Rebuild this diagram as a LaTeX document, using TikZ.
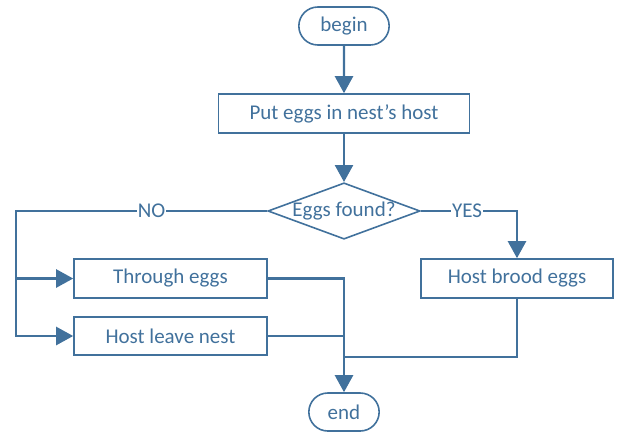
\documentclass[tikz,border=0pt]{standalone}
\usepackage{fontspec}
\setmainfont{Carlito}
\usetikzlibrary{arrows.meta,shapes.geometric,shapes.misc}
\definecolor{flowblue}{HTML}{41719C}

\begin{document}
\begin{tikzpicture}[x=1pt,y=-1pt,
  every node/.style={text=flowblue,font=\fontsize{21}{25}\selectfont},
  term/.style={draw=flowblue,line width=1.6pt,rounded rectangle,minimum width=77pt,minimum height=38pt},
  proc/.style={draw=flowblue,line width=1.6pt,rectangle,minimum height=39pt},
  decis/.style={draw=flowblue,line width=1.6pt,diamond,aspect=2.7,inner sep=0pt,minimum width=151pt,minimum height=56pt},
  flow/.style={draw=flowblue,line width=2.4pt},
  arr/.style={flow,-{Triangle[length=17pt,width=18pt]}},
  lbl/.style={fill=white,inner sep=1pt}]
 \useasboundingbox (0,0) rectangle (619,432);
 \node[term,minimum width=97pt] (begin) at (344,26) {begin};
 \node[proc,minimum width=251pt] (put) at (344,113.5) {Put eggs in nest’s host};
 \node[decis] (found) at (344,211) {Eggs found?};
 \node[proc,minimum width=193pt] (through) at (170.5,278.5) {Through eggs};
 \node[proc,minimum width=193pt,minimum height=38pt] (leave) at (170.5,336) {Host leave nest};
 \node[proc,minimum width=192pt] (brood) at (517,278.5) {Host brood eggs};
 \node[term] (end) at (344,412) {end};
 \coordinate (nocorner) at (16,211);
 \coordinate (join) at (344,357);
 \draw[arr] (begin) -- (put);
 \draw[arr] (put) -- (found);
 \draw[arr] (found.west) -- node[lbl,pos=.46]{NO} (nocorner) |- (through.west);
 \draw[arr] (nocorner) |- (leave.west);
 \draw[arr] (found.east) -| node[lbl,pos=.24]{YES} (brood.north);
 \draw[arr] (through.east) -| (end.north);
 \draw[flow] (leave.east) -- (leave.east -| end.north);
 \draw[flow] (brood.south) |- (join);
\end{tikzpicture}
\end{document}
